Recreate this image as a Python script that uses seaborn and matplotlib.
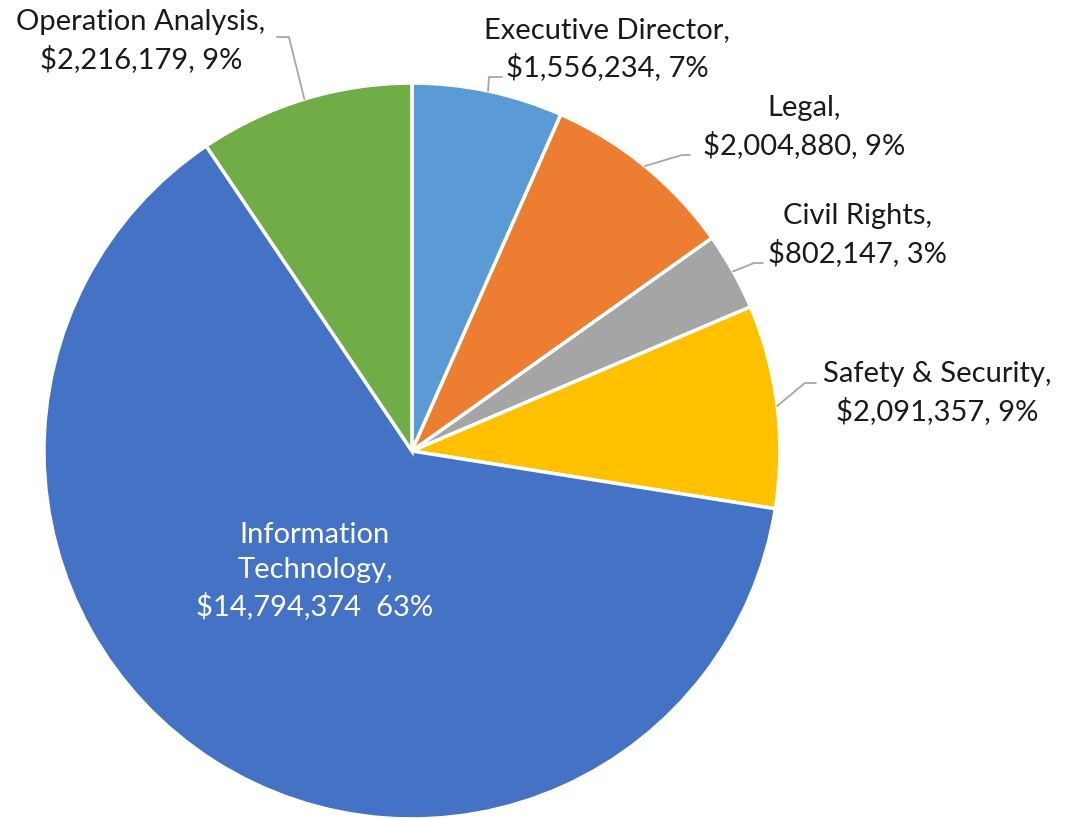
import matplotlib
matplotlib.use("Agg")
import matplotlib.pyplot as plt
import seaborn as sns
import numpy as np

categories = ["Executive Director", "Legal", "Civil Rights", "Safety & Security",
              "Information Technology", "Operation Analysis"]
values = [1556234, 2004880, 802147, 2091357, 14794374, 2216179]
pct_labels = ["7%", "9%", "3%", "9%", "63%", "9%"]
colors = ["#5B9BD5", "#ED7D31", "#A5A5A5", "#FFC000", "#4472C4", "#70AD47"]

sns.set_style("white")
plt.rcParams['font.family'] = ['Lato', 'DejaVu Sans']

fig = plt.figure(figsize=(10.65, 8.2), dpi=100)
ax = fig.add_axes([0.0413, 0.0, 0.691, 0.8976])
wedges, _ = ax.pie(values, colors=colors, startangle=90, counterclock=False,
                   wedgeprops=dict(edgecolor="white", linewidth=2.5))
ax.set_xlim(-1, 1)
ax.set_ylim(-1, 1)
ax.set_aspect("equal")
ax.axis("off")

def px(x, y):
    return ((x - 412) / 368.0, (452 - y) / 368.0)

# label positions (pixel centres in reference) and leader line elbows
label_pos = {
    0: (607, 49),
    1: (804, 127),
    2: (858, 235),
    3: (937, 393),
    5: (141, 41),
}
elbows = {
    0: [(489, 78), (502, 78)],
    1: [(682, 156), (690, 156)],
    2: [(754, 264), (763, 264)],
    3: [(805, 384), (816, 384)],
    5: [(289, 38), (277, 38)],
}

FS = 21
LS = 1.42

for i, w in enumerate(wedges):
    name = categories[i]
    txt = f"{name},\n${values[i]:,}, {pct_labels[i]}"
    if i == 4:
        x, y = px(315, 571)
        ax.text(x, y, f"Information\nTechnology,\n${values[i]:,}  {pct_labels[i]}",
                ha="center", va="center", color="white", fontsize=FS,
                linespacing=LS)
        continue
    ang = np.deg2rad((w.theta1 + w.theta2) / 2)
    sx, sy = np.cos(ang), np.sin(ang)
    pts = [(sx, sy)] + [px(*p) for p in elbows[i]]
    xs, ys = zip(*pts)
    ax.plot(xs, ys, color="#A6A6A6", linewidth=1.3, clip_on=False)
    x, y = px(*label_pos[i])
    ax.text(x, y, txt, ha="center", va="center", color="#1a1a1a", fontsize=FS,
            linespacing=LS, clip_on=False)

fig.savefig("out.png", dpi=100)
